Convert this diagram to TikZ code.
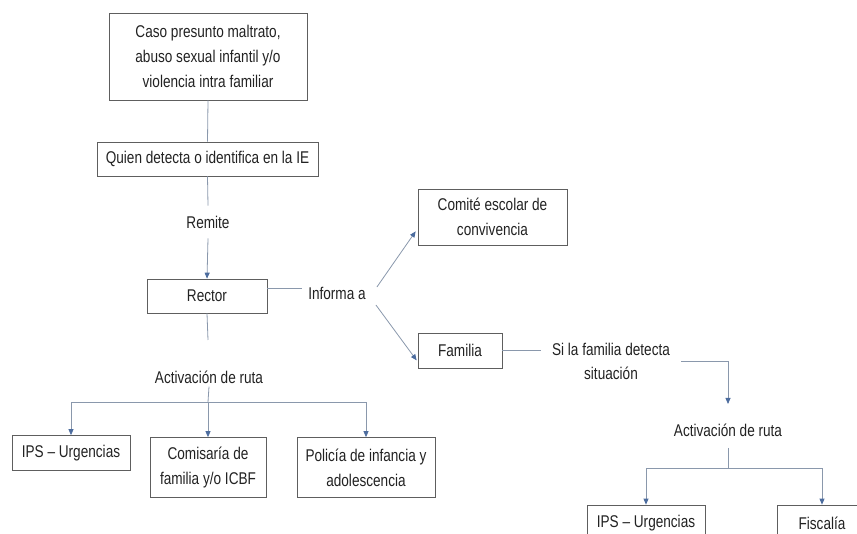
\documentclass[tikz,border=0pt]{standalone}
\usepackage{fontspec}
\setmainfont{Liberation Sans}[FakeStretch=0.8]
\usetikzlibrary{arrows.meta,calc}
\definecolor{boxline}{HTML}{5E5E5E}
\definecolor{conn}{HTML}{8A98AC}
\definecolor{tipc}{HTML}{4C6C9E}
\definecolor{txt}{HTML}{222222}
\begin{document}
\begin{tikzpicture}[x=1pt,y=-1pt,
  every node/.style={text=txt},
  box/.style={draw=boxline, line width=0.7pt, align=center, inner sep=0pt,
    font=\fontsize{17}{25}\selectfont},
  lbl/.style={align=center, inner sep=0pt, font=\fontsize{17}{24}\selectfont},
  con/.style={draw=conn, line width=0.8pt},
  arr/.style={con, -{Triangle[width=5pt,length=6pt,color=tipc]}}]
\useasboundingbox (0,0) rectangle (857,534);
\clip (0,0) rectangle (857,534);
% boxes
\node[box, minimum width=198pt, minimum height=87pt] (caso) at (208,56.5)
  {Caso presunto maltrato,\\abuso sexual infantil y/o\\violencia intra familiar};
\node[box, minimum width=221pt, minimum height=34pt] (quien) at (207.5,159)
  {Quien detecta o identifica en la IE};
\node[box, minimum width=120pt, minimum height=34pt] (rector) at (207,296) {Rector};
\node[box, minimum width=149pt, minimum height=56pt] (comite) at (492.5,217)
  {Comité escolar de\\convivencia};
\node[box, minimum width=84pt, minimum height=35pt] (familia) at (460,350.5) {Familia};
\node[box, minimum width=118pt, minimum height=35pt] (ips1) at (71,453) {IPS – Urgencias};
\node[box, minimum width=116pt, minimum height=60pt] (comis) at (208,467.5)
  {Comisaría de\\familia y/o ICBF};
\node[box, minimum width=138pt, minimum height=60pt] (poli) at (366,467.5)
  {Policía de infancia y\\adolescencia};
\node[box, minimum width=118pt, minimum height=36pt] (ips2) at (646,523) {IPS – Urgencias};
\node[box, minimum width=90pt, minimum height=36pt] (fisc) at (822,523) {Fiscalía};
% labels
\node[lbl, inner ysep=10pt] (remite) at (208,222) {Remite};
\node[lbl, inner xsep=6pt] (informa) at (337,293) {Informa a};
\node[lbl, inner xsep=11pt] (silaf) at (611,361.5) {Si la familia detecta\\situación};
\node[lbl] (act1) at (209,377) {Activación de ruta};
\node[lbl] (act2) at (728,430) {Activación de ruta};
% junctions
\coordinate (r1) at (208,340);
\coordinate (j1) at (208,402);
\coordinate (a2top) at (728,404);
\coordinate (a2bot) at (728,448);
\coordinate (j2) at (728,468);
% connectors
\draw[con] (caso.south) -- (quien.north);
\draw[con] (quien.south) -- (remite.north);
\draw[arr] (remite.south) -- (rector.north);
\draw[con] ([yshift=8pt]rector.east) -- ([yshift=8pt]rector.east -| informa.west);
\draw[arr] ($(informa.east)+(5,-6)$) -- ($(comite.south west)+(-2,-14)$);
\draw[arr] ($(informa.east)+(4,12)$) -- ($(familia.south west)+(-1,-8)$);
\draw[con] (familia.east) -- (familia.east -| silaf.west);
\draw[arr] (silaf.east) -| (a2top);
\draw[con] (rector.south) -- (r1);
\draw[con] ([yshift=-3pt]act1.south) -- (j1);
\draw[arr] (j1) -- (comis.north);
\draw[arr] (j1) -| (ips1.north);
\draw[arr] (j1) -| (poli.north);
\draw[con] (a2bot) -- (j2);
\draw[arr] (j2) -| (ips2.north);
\draw[arr] (j2) -| (fisc.north);
\end{tikzpicture}
\end{document}
